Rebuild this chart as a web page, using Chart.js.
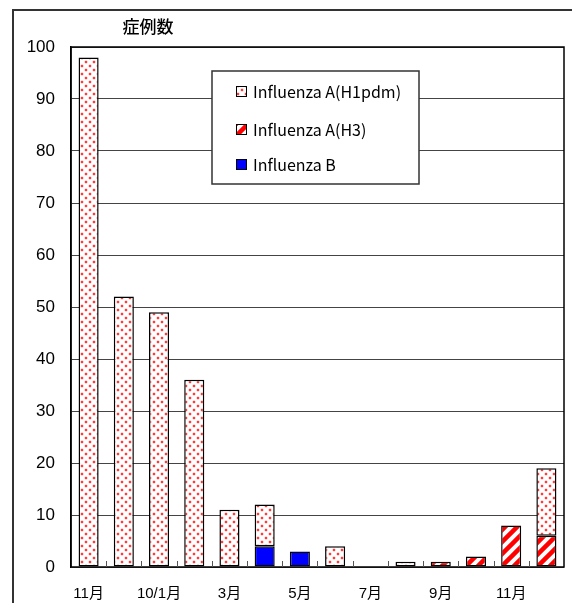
<!DOCTYPE html>
<html>
<head>
<meta charset="utf-8">
<script src="https://cdn.jsdelivr.net/npm/chart.js@4"></script>
<style>
  html, body { margin: 0; padding: 0; background: #fff; }
  #wrap { width: 572px; height: 603px; }
</style>
</head>
<body>
<div id="wrap"><canvas id="myChart" width="572" height="603"></canvas></div>
<script>
// data block
const months = ['11月', '12月', '10/1月', '2月', '3月', '4月', '5月', '6月', '7月', '8月', '9月', '10月', '11月', '12月'];
const h1pdm = [98, 52, 49, 36, 11, 8, null, 4, null, 1, null, null, null, 13];
const h3 = [null, null, null, null, null, null, null, null, null, null, 1, 2, 8, 6];
const fluB = [null, null, null, null, null, 4, 3, null, null, null, null, null, null, null];
const yTitle = '症例数';

const baseFont = "'Liberation Sans', 'Noto Sans CJK JP', sans-serif";

// patterns
function makePattern(draw, w, h) {
    const c = document.createElement('canvas');
    c.width = w; c.height = h;
    const g = c.getContext('2d');
    g.fillStyle = '#fff';
    g.fillRect(0, 0, w, h);
    draw(g);
    return document.createElement('canvas').getContext('2d').createPattern(c, 'repeat');
}
const dots = makePattern(g => {
    g.fillStyle = '#ffd6d6';
    g.fillRect(0, 0, 4, 4);
    g.fillRect(4, 4, 4, 4);
    g.fillStyle = '#fff';
    g.fillRect(0, 0, 1, 1); g.fillRect(3, 0, 1, 1); g.fillRect(0, 3, 1, 1); g.fillRect(3, 3, 1, 1);
    g.fillRect(4, 4, 1, 1); g.fillRect(7, 4, 1, 1); g.fillRect(4, 7, 1, 1); g.fillRect(7, 7, 1, 1);
    g.fillStyle = '#ff3b3b';
    g.fillRect(1, 1, 2, 2);
    g.fillRect(5, 5, 2, 2);
}, 8, 8);
const stripes = makePattern(g => {
    g.strokeStyle = '#ff0000';
    g.lineWidth = 4.5;
    g.beginPath();
    g.moveTo(-2, 14); g.lineTo(14, -2);
    g.moveTo(-8, 8); g.lineTo(8, -8);
    g.moveTo(4, 20); g.lineTo(20, 4);
    g.stroke();
}, 12, 12);

const data = {
    labels: months,
    datasets: [
        { label: 'Influenza B', data: fluB, backgroundColor: '#0000ff' },
        { label: 'Influenza A(H3)', data: h3, backgroundColor: stripes },
        { label: 'Influenza A(H1pdm)', data: h1pdm, backgroundColor: dots }
    ].map(d => Object.assign(d, {
        borderColor: '#000',
        borderWidth: 1.5,
        borderSkipped: false,
        barPercentage: 0.57,
        categoryPercentage: 1
    }))
};

// frame, title, x ticks, legend
const decor = {
    id: 'decor',
    beforeDraw(chart) {
        const ctx = chart.ctx;
        ctx.save();
        ctx.fillStyle = '#fff';
        ctx.fillRect(0, 0, chart.width, chart.height);
        ctx.strokeStyle = '#333';
        ctx.lineWidth = 2;
        ctx.beginPath();
        ctx.moveTo(13, chart.height);
        ctx.lineTo(13, 10);
        ctx.lineTo(chart.width, 10);
        ctx.stroke();
        ctx.restore();
    },
    afterDatasetsDraw(chart) {
        const ctx = chart.ctx;
        const a = chart.chartArea;
        const x = chart.scales.x;
        ctx.save();
        // plot border
        ctx.strokeStyle = '#000';
        ctx.lineWidth = 1.5;
        ctx.strokeRect(a.left, a.top, a.right - a.left, a.bottom - a.top);
        // small tick marks between categories
        const half = (x.getPixelForValue(1) - x.getPixelForValue(0)) / 2;
        ctx.strokeStyle = '#555';
        ctx.lineWidth = 1;
        ctx.beginPath();
        for (let i = 0; i < months.length - 1; i++) {
            const px = Math.round(x.getPixelForValue(i) + half) + 0.5;
            ctx.moveTo(px, a.bottom);
            ctx.lineTo(px, a.bottom - 6);
        }
        ctx.stroke();
        // axis title
        ctx.fillStyle = '#000';
        ctx.font = "500 17px 'Noto Sans CJK JP', sans-serif";
        ctx.textAlign = 'center';
        ctx.textBaseline = 'middle';
        ctx.fillText(yTitle, 148, 27);
        // legend
        const lx = a.left + 141, ly = a.top + 24, lw = 207, lh = 113;
        ctx.fillStyle = '#fff';
        ctx.fillRect(lx, ly, lw, lh);
        ctx.strokeStyle = '#333';
        ctx.lineWidth = 1.5;
        ctx.strokeRect(lx, ly, lw, lh);
        const rows = [20, 58, 93];
        const sets = chart.data.datasets.slice().reverse();
        ctx.font = "16px 'Noto Sans CJK JP', sans-serif";
        ctx.textAlign = 'left';
        sets.forEach((ds, i) => {
            const cy = ly + rows[i];
            ctx.fillStyle = ds.backgroundColor;
            ctx.fillRect(lx + 24, cy - 5, 10, 10);
            ctx.strokeStyle = '#000';
            ctx.lineWidth = 1;
            ctx.strokeRect(lx + 24.5, cy - 4.5, 10, 10);
            ctx.fillStyle = '#000';
            ctx.fillText(ds.label, lx + 41, cy + 1);
        });
        ctx.restore();
    }
};

// config block
const config = {
    type: 'bar',
    data: data,
    options: {
        responsive: false,
        animation: false,
        layout: { padding: { left: 13, top: 47, right: 8, bottom: 0 } },
        scales: {
            x: {
                stacked: true,
                grid: { display: false },
                border: { display: false },
                afterFit: s => { s.height = 36; },
                ticks: {
                    autoSkip: false,
                    maxRotation: 0,
                    padding: 10,
                    color: '#000',
                    font: { family: baseFont, size: 15 },
                    callback: (v, i) => i % 2 === 0 ? months[i] : ''
                }
            },
            y: {
                stacked: true,
                min: 0,
                max: 100,
                afterFit: s => { s.width = 58; },
                grid: { color: '#444', lineWidth: 1, drawTicks: false },
                border: { color: '#000', width: 1.5 },
                ticks: {
                    stepSize: 10,
                    padding: 16,
                    color: '#000',
                    font: { family: baseFont, size: 17 }
                }
            }
        },
        plugins: {
            legend: { display: false },
            tooltip: { enabled: false }
        }
    },
    plugins: [decor]
};

// init render block
const myChart = new Chart(
    document.getElementById('myChart'),
    config
);
</script>
</body>
</html>
